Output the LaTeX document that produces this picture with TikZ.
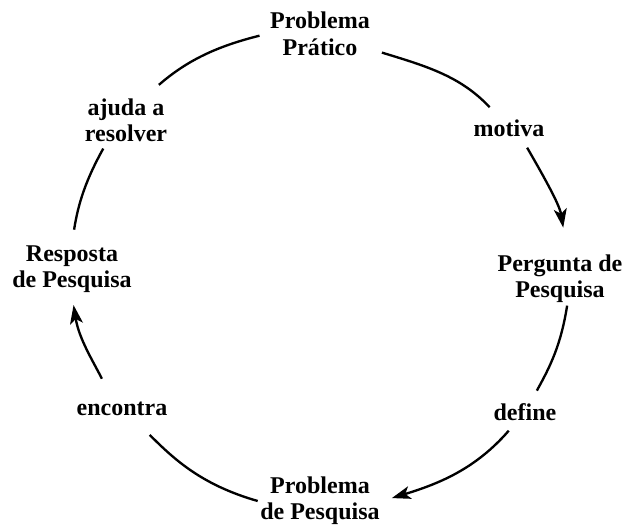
\documentclass[tikz,border=0pt]{standalone}
\usepackage{fontspec}
\setmainfont{Liberation Serif}
\usetikzlibrary{arrows.meta}

\begin{document}
\begin{tikzpicture}[>={Stealth[length=16pt,width=11pt,inset=4pt]},
  lbl/.style={font=\fontsize{20.5}{22.5}\selectfont\bfseries, align=center, inner sep=2pt},
  seta/.style={line width=2pt}]
\useasboundingbox (-9.54,-7.74) rectangle (9.21,8.01);
% etapas do ciclo
\node[lbl] (pp)  at (0.06,7.0)    {Problema\\Prático};
\node[lbl] (pq)  at (7.26,-0.36)  {Pergunta de\\Pesquisa};
\node[lbl] (pdp) at (0.06,-7.02)  {Problema\\de Pesquisa};
\node[lbl] (rp)  at (-7.38,-0.06) {Resposta\\de Pesquisa};
% rotulos das ligacoes
\node[lbl] (mot) at (5.73,4.17)   {motiva};
\node[lbl] (def) at (6.21,-4.35)  {define};
\node[lbl] (enc) at (-5.88,-4.26) {encontra};
\node[lbl] (aju) at (-5.76,4.41)  {ajuda a\\resolver};
% arcos
\draw[seta,shorten <=0.3cm,shorten >=0.4cm] (pp) to[out=-17,in=133] (mot);
\draw[seta,->,shorten <=0.3cm,shorten >=0.75cm] (mot.-40) to[out=-60,in=99] (pq.75);
\draw[seta,shorten >=0.35cm] (pq.-75) to[out=-99,in=61] (def);
\draw[seta,->,shorten <=0.3cm,shorten >=0.3cm] (def) to[out=-131,in=17] (pdp.east);
\draw[seta,shorten >=0.7cm] (pdp.west) to[out=164,in=-45] (enc.-40);
\draw[seta,->,shorten <=0.7cm,shorten >=0.3cm] (enc.135) to[out=117,in=-81] (rp.south);
\draw[seta,shorten <=0.4cm,shorten >=0.15cm] (rp.north) to[out=81,in=-119] (aju.-130);
\draw[seta,shorten <=0.5cm,shorten >=0.25cm] (aju.50) to[out=41,in=-166] (pp.west);
\end{tikzpicture}
\end{document}
